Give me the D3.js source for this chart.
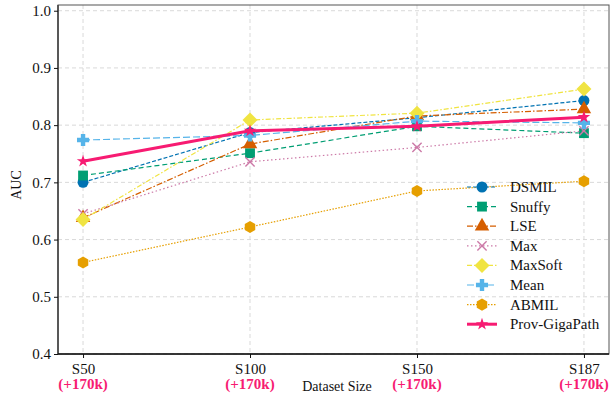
<!DOCTYPE html>
<html>
<head>
<meta charset="utf-8">
<script src="https://cdn.jsdelivr.net/npm/d3@7"></script>
<style>
  body { margin: 0; background: #fff; }
  svg text { font-family: "Liberation Serif", "Times New Roman", "DejaVu Serif", serif !important; }
</style>
</head>
<body>
<div id="chart"></div>
<script>
const categories = ['S50', 'S100', 'S150', 'S187'];
const subLabels = ['(+170k)', '(+170k)', '(+170k)', '(+170k)'];
const yTicks = [0.4, 0.5, 0.6, 0.7, 0.8, 0.9, 1.0];

const dsmil = [0.700, 0.787, 0.813, 0.843];
const snuffy = [0.712, 0.751, 0.798, 0.786];
const lse = [0.638, 0.767, 0.816, 0.828];
const maxPool = [0.645, 0.736, 0.761, 0.790];
const maxSoft = [0.635, 0.809, 0.821, 0.863];
const mean = [0.774, 0.782, 0.807, 0.804];
const abmil = [0.560, 0.622, 0.685, 0.702];
const provGigaPath = [0.737, 0.790, 0.798, 0.814];

const series = [
  { name: 'DSMIL', values: dsmil, color: '#0072B2', dash: '4,2', marker: 'circle', width: 1.2 },
  { name: 'Snuffy', values: snuffy, color: '#009E73', dash: '5,3', marker: 'square', width: 1.2 },
  { name: 'LSE', values: lse, color: '#D55E00', dash: '6,2,1.5,2', marker: 'triangle', width: 1.2 },
  { name: 'Max', values: maxPool, color: '#CC79A7', dash: '1.5,2.5', marker: 'cross', width: 1.2 },
  { name: 'MaxSoft', values: maxSoft, color: '#F0E442', dash: '5,2,1.5,2', marker: 'diamond', width: 1.2 },
  { name: 'Mean', values: mean, color: '#56B4E9', dash: '7,3', marker: 'plus', width: 1.2 },
  { name: 'ABMIL', values: abmil, color: '#E69F00', dash: '1.5,1.5', marker: 'hexagon', width: 1.2 },
  { name: 'Prov-GigaPath', values: provGigaPath, color: '#F71B72', dash: null, marker: 'star', width: 3 }
];

const W = 610, H = 396;
const margin = { top: 5, right: 1, bottom: 42, left: 58 };
const svg = d3.select('#chart').append('svg').attr('width', W).attr('height', H);

const x = d3.scaleLinear().domain([-0.15, 3.15]).range([margin.left, W - margin.right]);
const y = d3.scaleLinear().domain([0.4, 1.01]).range([H - margin.bottom, margin.top]);

// grid
const grid = svg.append('g');
grid.selectAll('line.h').data(yTicks).join('line')
  .attr('x1', margin.left).attr('x2', W - margin.right)
  .attr('y1', d => y(d)).attr('y2', d => y(d))
  .attr('stroke', '#d9d9d9').attr('stroke-width', 1).attr('stroke-dasharray', '4,3');
grid.selectAll('line.v').data(categories).join('line')
  .attr('x1', (d, i) => x(i)).attr('x2', (d, i) => x(i))
  .attr('y1', margin.top).attr('y2', H - margin.bottom)
  .attr('stroke', '#d9d9d9').attr('stroke-width', 1).attr('stroke-dasharray', '4,3');

function markerPath(type, s) {
  switch (type) {
    case 'circle': return d3.symbol(d3.symbolCircle, s * s * 0.78)();
    case 'square': return d3.symbol(d3.symbolSquare, s * s * 0.8)();
    case 'triangle': return d3.symbol(d3.symbolTriangle, s * s * 0.75)();
    case 'diamond': {
      const r = s * 0.68;
      return `M0,${-r}L${r},0L0,${r}L${-r},0Z`;
    }
    case 'plus': {
      const a = s * 0.55, b = s * 0.2;
      return `M${-b},${-a}H${b}V${-b}H${a}V${b}H${b}V${a}H${-b}V${b}H${-a}V${-b}H${-b}Z`;
    }
    case 'hexagon': {
      const r = s * 0.55;
      const pts = d3.range(6).map(k => {
        const t = Math.PI / 6 + k * Math.PI / 3;
        return [r * Math.cos(t), r * Math.sin(t)];
      });
      return 'M' + pts.map(p => p.join(',')).join('L') + 'Z';
    }
    case 'star': return d3.symbol(d3.symbolStar, s * s * 0.4)();
    default: return '';
  }
}

function drawMarker(g, type, color, cx, cy, s) {
  if (type === 'cross') {
    const r = s * 0.42;
    g.append('path')
      .attr('d', `M${cx - r},${cy - r}L${cx + r},${cy + r}M${cx - r},${cy + r}L${cx + r},${cy - r}`)
      .attr('stroke', color).attr('stroke-width', 1.4).attr('fill', 'none');
  } else {
    g.append('path')
      .attr('d', markerPath(type, s))
      .attr('transform', `translate(${cx},${cy})`)
      .attr('fill', color);
  }
}

const line = d3.line().x((d, i) => x(i)).y(d => y(d));
const plot = svg.append('g');
series.forEach(s => {
  const g = plot.append('g');
  g.append('path').datum(s.values)
    .attr('d', line).attr('fill', 'none')
    .attr('stroke', s.color).attr('stroke-width', s.width)
    .attr('stroke-dasharray', s.dash);
  s.values.forEach((v, i) => drawMarker(g, s.marker, s.color, x(i), y(v), 11));
});

// frame
svg.append('rect')
  .attr('x', margin.left).attr('y', margin.top)
  .attr('width', W - margin.right - margin.left).attr('height', H - margin.bottom - margin.top)
  .attr('fill', 'none').attr('stroke', '#555').attr('stroke-width', 1);
svg.append('line').attr('x1', margin.left).attr('x2', margin.left)
  .attr('y1', margin.top).attr('y2', H - margin.bottom).attr('stroke', '#444').attr('stroke-width', 1.6);
svg.append('line').attr('x1', margin.left).attr('x2', W - margin.right)
  .attr('y1', H - margin.bottom).attr('y2', H - margin.bottom).attr('stroke', '#111').attr('stroke-width', 1.3);

// y axis
const yAxis = svg.append('g').attr('transform', `translate(${margin.left},0)`)
  .call(d3.axisLeft(y).tickValues(yTicks).tickFormat(d3.format('.1f')).tickSize(4));
yAxis.select('.domain').remove();
yAxis.selectAll('text').attr('font-size', 15).attr('fill', '#111');
yAxis.selectAll('line').attr('stroke', '#111');

// x axis
const xAxis = svg.append('g').attr('transform', `translate(0,${H - margin.bottom})`)
  .call(d3.axisBottom(x).tickValues(d3.range(categories.length)).tickFormat(i => categories[i]).tickSize(4).tickPadding(5));
xAxis.select('.domain').remove();
xAxis.selectAll('text').attr('font-size', 15).attr('fill', '#111');
xAxis.selectAll('line').attr('stroke', '#111');
svg.append('g').selectAll('text').data(subLabels).join('text')
  .attr('x', (d, i) => x(i)).attr('y', 389)
  .attr('text-anchor', 'middle').attr('font-size', 15).attr('font-weight', 'bold')
  .attr('fill', '#F71B72').text(d => d);

svg.append('text').attr('x', 337).attr('y', 391).attr('text-anchor', 'middle')
  .attr('font-size', 14).attr('fill', '#111').text('Dataset Size');
svg.append('text').attr('transform', 'translate(21,185) rotate(-90)').attr('text-anchor', 'middle')
  .attr('font-size', 14).attr('fill', '#111').text('AUC');

// legend
const legend = svg.append('g').attr('transform', 'translate(467,187)');
series.forEach((s, i) => {
  const ly = i * 19.6;
  const g = legend.append('g');
  g.append('line').attr('x1', 0).attr('x2', 30).attr('y1', ly).attr('y2', ly)
    .attr('stroke', s.color).attr('stroke-width', s.width).attr('stroke-dasharray', s.dash);
  drawMarker(g, s.marker, s.color, 15, ly, 11);
  g.append('text').attr('x', 43).attr('y', ly + 5).attr('font-size', 15).attr('fill', '#111').text(s.name);
});
</script>
</body>
</html>
